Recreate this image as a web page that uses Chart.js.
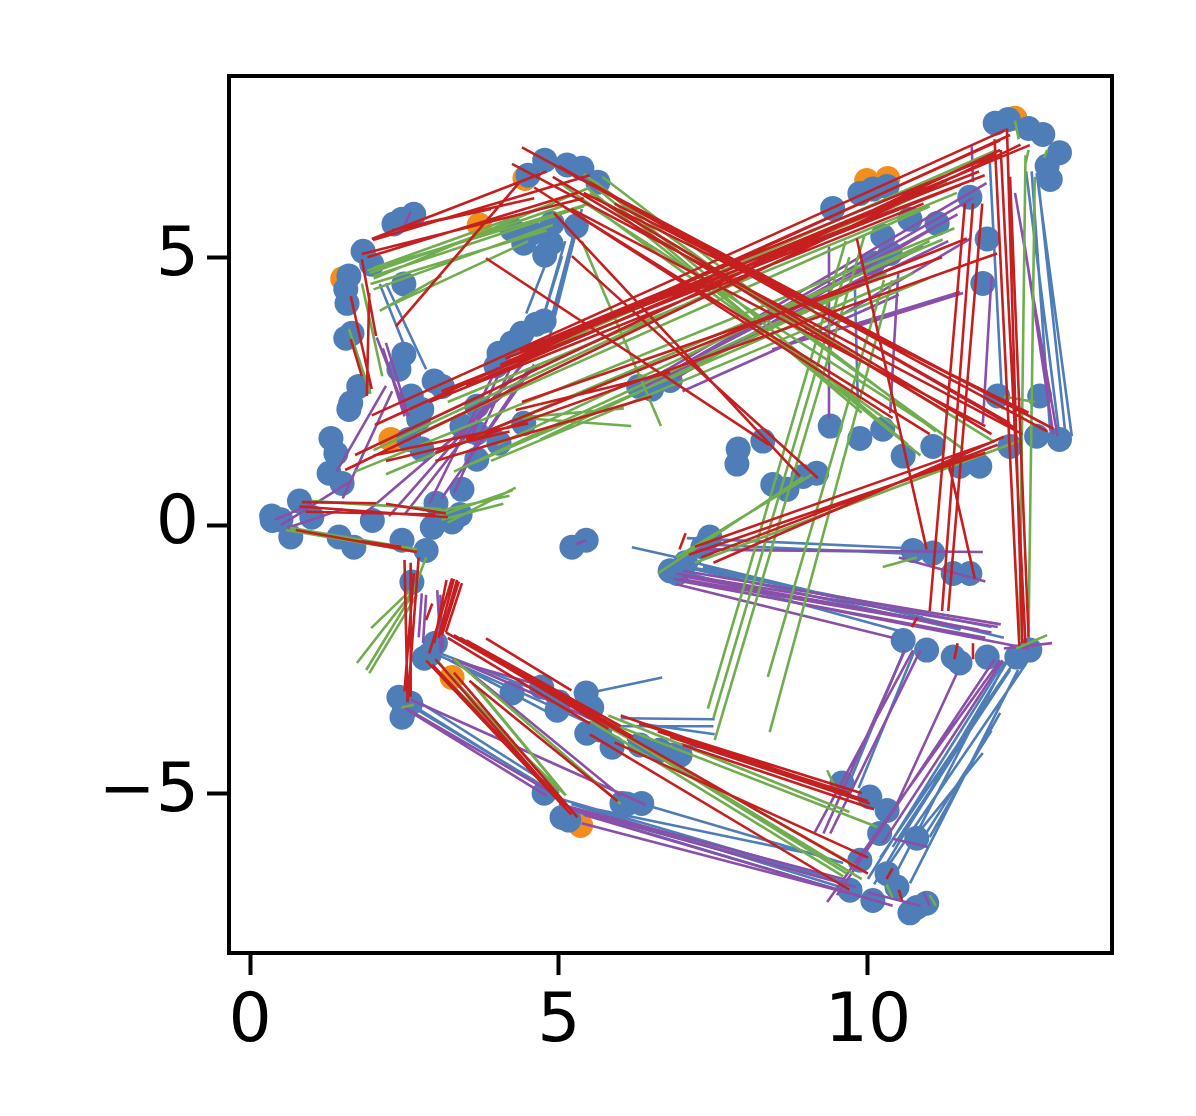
<!DOCTYPE html>
<html lang="en">
<head>
<meta charset="UTF-8">
<title>Scatter with segments</title>
<script src="https://cdn.jsdelivr.net/npm/chart.js"></script>
<style>
    body { margin: 0; background: #fff; }
    canvas { display: block; }
</style>
</head>
<body>
<canvas id="myChart" width="1196" height="1116"></canvas>
<script>
const xTicks = [0, 5, 10];
const yTicks = [-5, 0, 5];

// points, [x, y]
const orangeDots = [[12.38,7.59],[4.45,6.47],[9.98,6.43],[10.32,6.47],[3.27,-2.84],[5.35,-5.6],[3.71,5.6],[2.28,1.6],[1.5,4.6]];
const blueDots = [
    [12.06,7.5],[12.27,7.57],[12.6,7.4],[12.83,7.29],[13.1,6.95],[12.95,6.45],[12.9,6.7],
    [4.5,6.53],[4.77,6.81],[5.13,6.72],[5.37,6.66],[5.63,6.4],
    [4.56,5.45],[4.43,5.26],[4.87,5.26],[5.28,5.58],[4.89,5.63],[4.24,5.52],[4.77,5.04],
    [2.65,5.8],[2.46,5.71],[2.33,5.62],
    [1.83,5.11],[1.97,4.87],[1.55,4.4],[1.6,4.65],[1.57,4.14],[2.49,4.5],[1.55,3.49],[1.65,3.58],
    [2.49,3.19],[2.41,2.91],[2.98,2.69],[3.11,2.59],
    [4.03,3.21],[3.98,2.97],[4.4,3.58],[4.63,3.75],[4.76,3.81],[4.24,3.4],
    [1.63,2.28],[1.76,2.59],[1.31,1.62],[1.6,2.16],[1.28,0.97],[1.49,0.78],[1.39,1.34],
    [2.73,1.98],[2.57,1.6],[2.78,1.42],[2.61,2.41],[2.78,2.16],
    [3.67,2.22],[3.43,1.85],[4.03,1.53],[4.43,1.9],[3.67,1.23],[3.43,0.67],[3.01,0.41],[3.67,1.72],
    [0.35,0.17],[0.36,0.09],[0.66,-0.22],[0.5,0.1],[0.8,0.45],[1.0,0.15],[1.98,0.09],[1.44,-0.22],[1.68,-0.41],
    [2.46,-0.28],[2.85,-0.47],[2.62,-1.06],[3.27,0.06],[2.95,-0.04],[3.4,0.2],
    [5.21,-0.41],[5.44,-0.28],
    [2.82,-2.48],[2.9,-2.42],[3.0,-2.2],
    [2.41,-3.21],[2.6,-3.32],[2.46,-3.58],[2.5,-3.45],
    [4.72,-3.02],[4.97,-3.45],[5.44,-3.13],[5.53,-3.4],[5.45,-3.88],[5.86,-4.14],[4.24,-3.13],[5.0,-3.3],
    [5.66,-3.82],[6.31,-4.1],[6.63,-4.2],[6.96,-4.29],
    [4.76,-5.0],[5.16,-5.5],[5.05,-5.45],[6.02,-5.19],[6.34,-5.19],[6.1,-5.2],
    [9.58,-4.81],[10.03,-5.07],[10.31,-5.32],[10.19,-5.75],[10.79,-5.84],[9.87,-6.25],[10.31,-6.5],
    [9.71,-6.81],[10.08,-7.0],[10.79,-7.13],[10.47,-6.75],[10.95,-7.05],[10.68,-7.23],
    [10.57,-2.15],[10.95,-2.33],[11.49,-2.57],[12.62,-2.33],[12.41,-2.46],[11.93,-2.46],[11.38,-2.46],
    [10.73,-0.47],[11.38,-0.9],[11.65,-0.9],[11.05,-0.52],
    [6.91,-0.9],[7.44,-0.22],[7.33,-0.41],[7.05,-0.7],[6.8,-0.85],
    [9.43,5.91],[9.87,6.19],[10.08,6.27],[10.31,6.32],[10.24,5.39],[11.12,5.63],[10.68,5.71],[11.65,6.12],
    [11.93,5.34],[11.86,4.51],[10.08,4.89],[10.36,5.07],
    [12.1,2.41],[12.78,2.41],[12.73,1.66],[13.1,1.6],[11.81,1.1],[11.49,1.1],[11.05,1.47],[10.57,1.29],
    [10.24,1.79],[9.39,1.85],[9.87,1.62],[12.3,1.47],
    [7.9,1.42],[7.88,1.14],[8.3,1.57],[8.46,0.76],[8.95,0.91],[9.17,0.97],[8.69,0.67],
    [6.29,2.59],[6.5,2.54],[6.8,2.7]
];

// line pieces, [x1, y1, x2, y2]
const redSegs = [
    [1.97,2.05,12.22,7.37],[2.02,1.87,12.3,7.28],[1.7,1.31,12.14,7.0],[1.54,1.03,12.47,7.1],
    [4.05,2.99,12.14,7.18],[4.21,3.08,12.62,7.09],[4.13,3.11,11.89,6.53],[4.37,3.26,12.05,6.9],
    [3.5,2.6,12.0,6.8],[4.7,3.4,11.8,6.6],[3.1,2.5,11.5,6.35],[2.9,2.3,10.9,6.0],
    [3.0,1.35,12.09,5.07],[3.5,1.6,11.6,5.35],[4.4,2.3,11.2,5.0],
    [4.4,7.05,12.9,1.75],[4.24,6.74,12.5,1.7],[5.0,6.7,12.3,1.9],[5.3,6.5,13.0,1.8],[5.5,6.4,12.4,1.8],
    [5.6,6.1,12.0,1.7],[5.2,5.9,11.9,1.85],[5.4,6.2,12.6,2.1],[4.9,6.5,11.3,2.1],[5.0,6.0,11.0,1.7],
    [5.9,6.0,12.2,2.3],[4.6,6.3,10.4,2.0],
    [3.82,4.98,8.4,1.5],[5.21,5.02,9.19,0.88],[4.92,5.82,8.9,0.91],
    [1.99,5.32,5.5,6.53],[1.81,5.06,5.4,6.1],[2.3,5.5,4.6,6.1],[1.97,5.34,4.8,6.6],[1.9,5.0,5.3,6.2],
    [2.36,3.71,4.35,6.38],[2.3,5.5,3.9,5.9],
    [11.0,-1.6,11.57,6.0],[11.3,-1.6,11.85,6.0],[11.2,-1.6,11.7,6.0],
    [12.25,7.4,12.5,-2.2],[12.05,7.2,12.45,-2.25],[12.15,7.0,12.55,-2.2],[12.3,6.5,12.6,-2.1],
    [9.82,5.35,10.95,-0.45],[11.3,1.2,11.73,-1.0],
    [3.17,-2.0,10.0,-6.5],[3.2,-2.1,5.5,-3.7],[3.3,-2.05,5.8,-3.8],[3.5,-2.15,6.0,-3.75],[3.4,-2.1,6.2,-3.95],[3.82,-2.11,5.2,-3.08],
    [6.8,-3.95,10.03,-5.19],[6.0,-3.55,10.0,-5.15],[6.3,-3.7,9.9,-5.0],[6.6,-3.85,9.7,-5.0],[7.0,-4.1,10.1,-5.3],
    [5.9,-4.05,10.0,-6.2],[5.5,-3.9,9.7,-6.8],
    [2.85,-2.52,4.8,-4.9],[2.95,-2.6,5.0,-5.1],[3.1,-2.8,5.2,-5.4],[3.3,-2.75,5.3,-5.45],[3.55,-2.9,5.95,-5.15],[3.0,-2.5,5.1,-5.25],
    [2.5,-0.65,2.55,-3.3],[2.73,-0.6,2.55,-3.3],[2.6,-0.7,2.6,-3.2],[2.65,-0.9,2.5,-3.1],
    [3.27,-0.99,2.9,-2.39],[3.43,-1.08,3.17,-2.0],[3.18,-1.02,2.98,-2.2],[3.3,-1.0,3.05,-2.1],[3.38,-1.05,3.12,-2.0],[3.35,-1.02,3.1,-2.05],[2.95,-1.46,2.85,-1.77],
    [0.84,0.43,2.04,0.41],[0.74,-0.09,2.7,-0.5],[1.8,-0.3,2.45,-0.4],[2.2,0.4,3.17,0.22],[0.8,0.35,3.2,0.15],[0.9,0.25,3.0,0.2],
    [1.63,4.27,1.97,2.54],[1.93,4.33,1.89,2.41],[1.81,4.96,2.04,3.53],[1.63,3.47,1.81,2.78],
    [2.0,1.3,4.5,1.9],[3.0,1.2,6.5,2.4],[2.2,1.2,4.2,1.75],[4.3,2.15,6.8,2.85],
    [7.5,-0.7,12.2,1.65],[7.2,-0.4,12.0,1.55],[7.1,-0.55,11.9,1.35],[7.3,-0.6,12.1,1.5],
    [11.7,-2.2,11.7,-2.5],[11.45,-2.2,11.4,-2.5],[10.4,-6.4,10.3,-6.6],[10.5,-6.8,10.55,-7.0],[10.8,-1.72,10.71,-1.9],[7.05,-0.15,6.95,-0.45]
];
const greenSegs = [
    [4.1,2.95,12.05,6.98],[4.4,3.05,11.28,6.4],[3.2,2.3,11.44,6.2],[2.7,1.7,11.0,5.95],[2.0,1.4,10.9,6.2],
    [1.7,1.0,11.4,5.54],[2.2,0.95,11.21,5.33],[3.9,1.2,10.97,4.6],[3.6,1.15,10.73,4.7],[4.0,1.5,11.0,5.3],
    [3.3,1.0,9.5,4.3],[4.7,1.6,10.3,4.7],
    [4.3,2.0,6.05,2.18],[4.4,2.0,6.17,1.85],[5.37,5.3,6.65,1.85],
    [3.0,0.15,4.25,0.65],[3.1,0.1,4.1,0.4],[3.0,0.25,4.2,0.55],[3.2,0.05,4.3,0.7],[1.0,0.45,3.1,0.3],[0.58,-0.09,2.7,-0.5],[0.65,-0.05,2.7,-0.45],
    [1.93,4.7,5.05,5.95],[2.0,4.8,4.9,6.0],[2.0,4.65,5.4,5.95],[2.14,4.03,4.5,5.3],[2.1,4.0,3.1,4.65],
    [1.95,4.5,4.8,5.5],[2.0,4.6,5.5,6.3],[1.9,4.75,5.5,6.0],[2.0,4.4,4.9,5.6],
    [5.4,6.55,11.54,1.42],[5.6,6.4,10.65,1.5],[5.5,6.2,12.05,1.55],[5.45,6.3,10.85,1.3],[5.3,6.1,11.0,1.85],
    [5.7,6.5,11.1,1.75],[5.0,6.4,10.5,1.8],[5.55,6.35,9.9,2.1],
    [7.41,-3.42,9.64,5.3],[7.52,-4.01,9.94,5.39],[8.38,-2.83,10.26,4.57],[8.41,-3.86,10.39,4.57],[7.5,-3.6,9.7,5.0],
    [12.45,-2.15,12.55,6.9],[12.6,-2.0,12.7,6.5],
    [7.2,-0.7,12.51,1.6],[6.6,-0.9,8.95,0.9],[6.9,-0.6,9.1,0.95],
    [10.24,-0.78,10.79,-0.6],[9.34,-4.57,9.47,-4.89],
    [5.6,-3.6,9.66,-6.5],[5.7,-3.7,9.8,-6.35],[5.5,-3.65,9.6,-6.55],[5.9,-3.8,9.9,-6.6],[5.4,-3.5,10.15,-5.63],[5.8,-3.55,9.7,-5.35],
    [2.85,-2.52,5.11,-5.04],[3.6,-2.95,5.11,-5.04],[3.3,-2.5,6.0,-5.2],[3.05,-2.55,4.9,-5.0],[3.2,-2.75,5.0,-5.0],[3.65,-3.0,5.05,-4.95],
    [2.6,-1.21,1.96,-1.92],[2.65,-1.21,1.73,-2.57],[2.7,-1.3,1.93,-2.76],[2.62,-1.3,1.88,-2.7],[2.85,-0.6,2.62,-1.3],
    [12.38,7.55,12.44,7.2],[12.9,7.0,12.85,6.85],[12.6,7.0,12.55,6.75],[12.2,2.4,12.7,2.3],
    [1.81,4.51,2.14,2.78],[1.6,3.66,1.95,2.45],
    [12.4,-2.3,12.9,-2.05],[10.3,-6.7,10.4,-6.95],[11.0,-6.9,11.1,-7.1],[2.45,-3.4,2.65,-3.35]
];
const purpleSegs = [
    [6.4,2.6,11.7,6.1],[6.8,2.85,11.45,5.8],[6.9,2.75,11.0,5.5],[7.0,2.9,10.9,5.2],[7.1,3.05,10.0,4.8],[8.45,3.28,11.49,4.35],
    [9.39,3.8,11.65,5.34],[6.6,2.7,11.3,5.3],[7.0,2.5,10.5,4.3],[9.82,3.71,11.54,4.33],[6.3,2.6,11.92,6.38],
    [9.37,5.2,9.37,2.0],[10.49,4.7,10.36,2.09],[12.0,4.65,11.86,1.9],[12.38,6.2,13.07,1.66],[12.5,5.5,13.0,1.7],[11.68,7.07,11.7,6.4],
    [4.72,3.4,2.25,0.17],[4.68,3.0,1.81,0.17],[4.4,3.0,2.5,0.2],[4.0,2.95,2.9,0.4],[4.08,2.97,3.54,1.53],[4.5,2.9,3.4,1.0],[4.2,2.9,3.3,0.6],[4.6,3.0,3.1,0.5],
    [2.2,3.4,2.57,2.03],[2.05,3.5,2.55,2.03],[2.15,3.3,2.5,2.03],[2.2,2.6,1.4,1.0],[2.3,2.5,1.5,0.5],
    [5.37,-5.56,9.71,-6.87],[5.2,-5.3,9.8,-6.75],[5.0,-5.2,9.6,-6.6],[5.4,-5.4,10.4,-7.1],[2.6,-3.25,6.41,-5.22],[2.5,-3.4,4.9,-5.0],[2.55,-3.45,4.8,-5.05],
    [3.3,-2.5,6.0,-5.05],[3.27,-2.52,4.79,-3.02],[3.3,-2.5,5.7,-3.7],
    [2.78,-1.27,2.73,-2.09],[2.85,-1.3,2.8,-2.2],[3.03,-1.21,3.09,-2.39],[3.08,-1.3,3.12,-2.3],
    [6.9,-0.9,12.1,-1.9],[6.95,-1.0,12.0,-2.0],[7.0,-1.05,11.9,-2.1],[7.0,-0.85,12.15,-1.85],[6.9,-1.1,10.4,-2.1],[6.85,-1.0,12.6,-2.3],[7.0,-0.95,11.8,-1.95],
    [7.1,-0.45,11.86,-0.5],[10.5,-0.6,11.9,-1.05],
    [9.34,-7.03,12.14,-2.52],[9.5,-6.9,12.05,-2.5],[9.14,-5.73,10.73,-2.33],[9.39,-5.75,10.85,-2.33],[9.28,-5.75,10.6,-2.33],
    [11.44,-2.76,10.47,-5.19],[10.24,-5.93,12.18,-2.52],[12.2,-2.3,12.98,-2.2],[10.4,-5.85,10.97,-6.0],
    [0.4,0.1,1.0,0.4],[0.5,0.0,1.6,0.8],[0.6,-0.05,1.5,0.3],[5.28,-0.35,5.44,-0.28],[2.6,5.85,2.5,5.6],
    [10.9,-6.85,11.0,-7.1],[10.0,-6.85,10.85,-7.1]
];
const blueSegs = [
    [13.3,1.66,12.73,6.57],[13.1,1.66,12.56,6.6],[13.2,1.66,12.75,6.5],[12.95,1.75,12.65,6.6],[11.97,6.83,12.18,2.16],[9.79,4.4,9.84,2.16],
    [5.37,5.9,4.84,3.47],[5.3,5.7,4.84,3.7],[4.79,4.89,4.47,3.95],[5.05,5.02,4.7,3.7],[5.1,5.3,4.7,3.7],[5.25,5.5,4.85,3.6],
    [2.2,4.51,2.85,2.91],[2.1,4.5,2.55,3.2],
    [10.68,-6.68,12.43,-2.7],[10.2,-6.2,12.4,-2.5],[10.1,-6.7,12.3,-2.45],[10.68,-5.93,11.86,-4.25],[11.0,-5.82,12.14,-3.5],[10.84,-5.93,12.0,-3.83],
    [10.0,-6.6,12.2,-2.55],[10.45,-6.5,12.25,-2.5],[10.3,-6.4,12.55,-2.6],[10.4,-6.0,12.3,-2.7],[10.5,-5.9,12.1,-3.0],
    [10.6,-2.3,9.7,-4.8],[10.75,-2.35,9.85,-4.9],
    [7.07,-0.24,10.68,-0.43],[7.2,-0.35,11.0,-0.55],[7.2,-0.45,10.7,-0.5],[6.18,-0.41,7.3,-0.7],
    [7.33,-0.78,10.89,-1.72],[7.0,-0.75,12.0,-1.9],[7.1,-0.8,11.5,-1.95],[7.2,-0.7,12.2,-2.1],[6.95,-0.85,10.6,-2.0],
    [2.55,-3.3,4.85,-4.95],[2.6,-3.2,5.0,-4.95],[2.5,-3.3,4.8,-4.9],
    [5.2,-5.2,9.7,-6.8],[5.0,-5.1,9.9,-6.75],[5.3,-5.35,9.8,-6.9],[5.4,-5.25,8.95,-6.1],[6.35,-5.2,9.6,-6.3],[5.2,-5.3,9.6,-6.65],
    [5.6,-3.1,6.67,-2.84],[3.0,-2.4,5.5,-3.7],[3.2,-2.5,5.0,-3.6],[3.1,-2.4,5.6,-3.5],
    [6.0,-3.6,7.52,-3.62],[6.0,-3.75,7.5,-3.75],[6.3,-3.7,7.52,-3.9],[6.1,-4.0,7.4,-4.15],
    [2.6,2.4,2.8,1.4],[1.3,1.8,1.4,0.6]
];

// turn [x1,y1,x2,y2] pieces into one line with gaps
function toLine(segs) {
    const pts = [];
    segs.forEach(s => {
        pts.push({x: s[0], y: s[1]}, {x: s[2], y: s[3]}, {x: NaN, y: NaN});
    });
    return pts;
}

function lineSet(segs, color) {
    return {data: toLine(segs), showLine: true, spanGaps: false, borderColor: color, borderWidth: 2.6, pointRadius: 0, borderCapStyle: 'butt'};
}

function dotSet(dots, color) {
    return {data: dots.map(d => ({x: d[0], y: d[1]})), showLine: false, pointRadius: 12.5, pointBorderWidth: 0, backgroundColor: color, pointBackgroundColor: color};
}

// all four spines
const frame = {
    id: 'frame',
    afterDraw(chart) {
        const a = chart.chartArea, c = chart.ctx;
        c.save();
        c.strokeStyle = '#000';
        c.lineWidth = 4;
        c.strokeRect(a.left, a.top, a.right - a.left, a.bottom - a.top);
        c.restore();
    }
};

function axisOpts(min, max, ticks) {
    return {
        type: 'linear', min: min, max: max,
        afterBuildTicks: s => { s.ticks = ticks.map(v => ({value: v})); },
        grid: {drawOnChartArea: false, tickLength: 22, tickWidth: 4, tickColor: '#000'},
        border: {display: false},
        ticks: {
            color: '#000', padding: 8, maxRotation: 0, autoSkip: false,
            font: {family: 'DejaVu Sans', size: 68},
            callback: v => String(v).replace('-', '\u2212')
        }
    };
}

const xAxis = axisOpts(-0.34, 13.95, xTicks);
xAxis.afterFit = s => { s.height = 163; };
const yAxis = axisOpts(-7.98, 8.38, yTicks);
yAxis.afterFit = s => { s.width = 229; };

new Chart(document.getElementById('myChart'), {
    type: 'scatter',
    plugins: [frame],
    data: {
        datasets: [
            lineSet(redSegs, '#c61f20'),
            lineSet(greenSegs, '#70ad4e'),
            lineSet(purpleSegs, '#8a4fa8'),
            lineSet(blueSegs, '#4f7db8'),
            dotSet(blueDots, '#4f7db8'),
            dotSet(orangeDots, '#f28e1c')
        ]
    },
    options: {
        responsive: false,
        animation: false,
        layout: {padding: {left: 0, top: 76, right: 84, bottom: 0}},
        plugins: {legend: {display: false}, tooltip: {enabled: false}, title: {display: false}},
        scales: {x: xAxis, y: yAxis}
    }
});
</script>
</body>
</html>
